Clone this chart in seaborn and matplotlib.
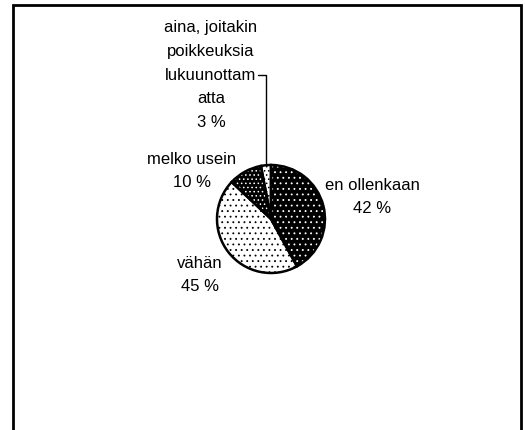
import matplotlib
matplotlib.use("Agg")
import matplotlib.pyplot as plt
import seaborn as sns
from matplotlib.patches import Rectangle
import numpy as np

# data
categories = ["en ollenkaan", "vähän", "melko usein", "aina, joitakin\npoikkeuksia\nlukuunottam\natta"]
shares = [42, 45, 10, 3]

# fill / dot colour and dot density per slice
face_colors = ["black", "white", "black", "white"]
dot_colors = ["white", "black", "white", "black"]
hatches = ["...", "...", "....", "...."]

sns.set_theme(style="white")
plt.rcParams["font.family"] = ["Liberation Sans", "DejaVu Sans"]
plt.rcParams["hatch.linewidth"] = 0.6

W, H = 525, 430
fig = plt.figure(figsize=(W / 100, H / 100), dpi=100)
ax = fig.add_axes([0, 0, 1, 1])
ax.set_xlim(0, W)
ax.set_ylim(0, H)
ax.axis("off")

cx, cy, r = 271, H - 219, 54

# hatched fills
wedges, _ = ax.pie(shares, startangle=90, counterclock=False, center=(cx, cy),
                   radius=r, colors=face_colors, wedgeprops=dict(linewidth=0))
for w, hc, h in zip(wedges, dot_colors, hatches):
    w.set_edgecolor(hc)
    w.set_hatch(h)

# outlines
outline, _ = ax.pie(shares, startangle=90, counterclock=False, center=(cx, cy),
                    radius=r, colors=["none"] * len(shares),
                    wedgeprops=dict(linewidth=1.8, edgecolor="black", facecolor="none"))
ax.set_xlim(0, W)
ax.set_ylim(0, H)

# labels
label_pos = [(372, H - 197), (200, H - 275), (192, H - 171), (211, H - 75)]
for cat, val, (lx, ly) in zip(categories, shares, label_pos):
    ax.text(lx, ly, f"{cat}\n{val} %", ha="center", va="center",
            fontsize=12, linespacing=1.72, color="black")

# leader line for the smallest slice
w = wedges[3]
mid = np.deg2rad((w.theta1 + w.theta2) / 2)
ex, ey = cx + r * np.cos(mid), cy + r * np.sin(mid)
ax.plot([258, ex, ex], [H - 75, H - 75, ey], color="black", lw=1)

# outer frame
fig.patches.append(Rectangle((13 / W, -0.1), (521 - 13) / W, (H - 5) / H + 0.1,
                             transform=fig.transFigure, fill=False, lw=2, ec="black"))

fig.savefig("out.png", dpi=100)
